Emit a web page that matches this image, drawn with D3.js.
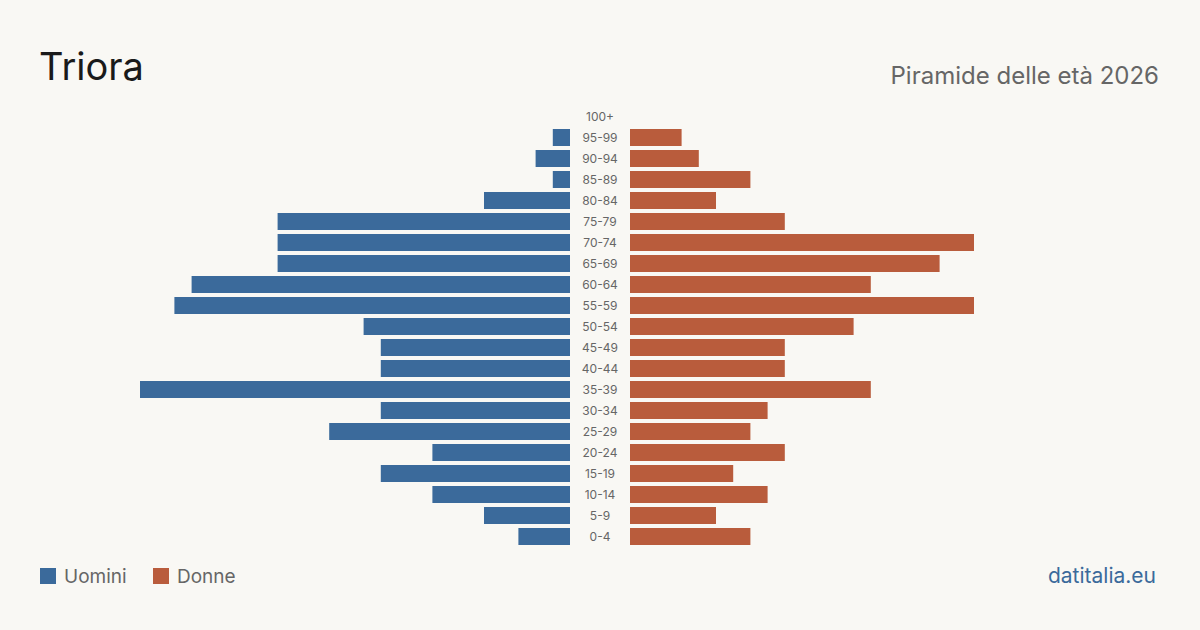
<!DOCTYPE html>
<html>
<head>
<meta charset="utf-8">
<script src="https://cdn.jsdelivr.net/npm/d3@7"></script>
<style>
  body { margin: 0; background: #f9f8f4; }
  svg { display: block; font-family: Inter, "Noto Sans", sans-serif; }
</style>
</head>
<body>
<div id="chart"></div>
<script>
// age classes, top to bottom
const ageGroups = ['100+', '95-99', '90-94', '85-89', '80-84', '75-79', '70-74', '65-69',
  '60-64', '55-59', '50-54', '45-49', '40-44', '35-39', '30-34', '25-29', '20-24',
  '15-19', '10-14', '5-9', '0-4'];
const males   = [0, 1, 2, 1, 5, 17, 17, 17, 22, 23, 12, 11, 11, 25, 11, 14, 8, 11, 8, 5, 3];
const females = [0, 3, 4, 7, 5, 9, 20, 18, 14, 20, 13, 9, 9, 14, 8, 7, 9, 6, 8, 5, 7];

const width = 1200, height = 630;
const blue = '#3b6a9b', orange = '#b95c3c';

const svg = d3.select('#chart').append('svg')
  .attr('width', width)
  .attr('height', height);

svg.append('rect').attr('width', width).attr('height', height).attr('fill', '#f9f8f4');

const maxVal = d3.max(males.concat(females));
const xL = d3.scaleLinear().domain([0, maxVal]).range([570, 140]);
const xR = d3.scaleLinear().domain([0, maxVal]).range([630, 1060]);
const y = d3.scaleBand().domain(ageGroups).range([106, 547]).paddingInner(4 / 21).paddingOuter(2 / 21);

svg.selectAll('.m')
  .data(ageGroups)
  .enter()
  .append('rect')
  .attr('x', (d, i) => xL(males[i]))
  .attr('y', d => y(d))
  .attr('width', (d, i) => xL(0) - xL(males[i]))
  .attr('height', y.bandwidth())
  .attr('fill', blue);

svg.selectAll('.f')
  .data(ageGroups)
  .enter()
  .append('rect')
  .attr('x', xR(0))
  .attr('y', d => y(d))
  .attr('width', (d, i) => xR(females[i]) - xR(0))
  .attr('height', y.bandwidth())
  .attr('fill', orange);

svg.selectAll('.lab')
  .data(ageGroups)
  .enter()
  .append('text')
  .attr('x', 600)
  .attr('y', d => y(d) + y.bandwidth() / 2)
  .attr('dy', '0.35em')
  .attr('text-anchor', 'middle')
  .style('font-size', '12px')
  .attr('fill', '#666')
  .text(d => d);

// titles
svg.append('text').attr('x', 39).attr('y', 80)
  .style('font-size', '38px').attr('fill', '#1a1a1a').text('Triora');
svg.append('text').attr('x', 1159).attr('y', 84).attr('text-anchor', 'end')
  .style('font-size', '24px').attr('fill', '#666').text('Piramide delle età 2026');

// legend
const legend = [{ name: 'Uomini', color: blue, x: 40 }, { name: 'Donne', color: orange, x: 153 }];
legend.forEach(l => {
  svg.append('rect').attr('x', l.x).attr('y', 568).attr('width', 16).attr('height', 16).attr('fill', l.color);
  svg.append('text').attr('x', l.x + 24).attr('y', 583)
    .style('font-size', '19px').attr('fill', '#666').text(l.name);
});

svg.append('text').attr('x', 1156).attr('y', 583).attr('text-anchor', 'end')
  .style('font-size', '21px').attr('fill', blue).text('datitalia.eu');
</script>
</body>
</html>
